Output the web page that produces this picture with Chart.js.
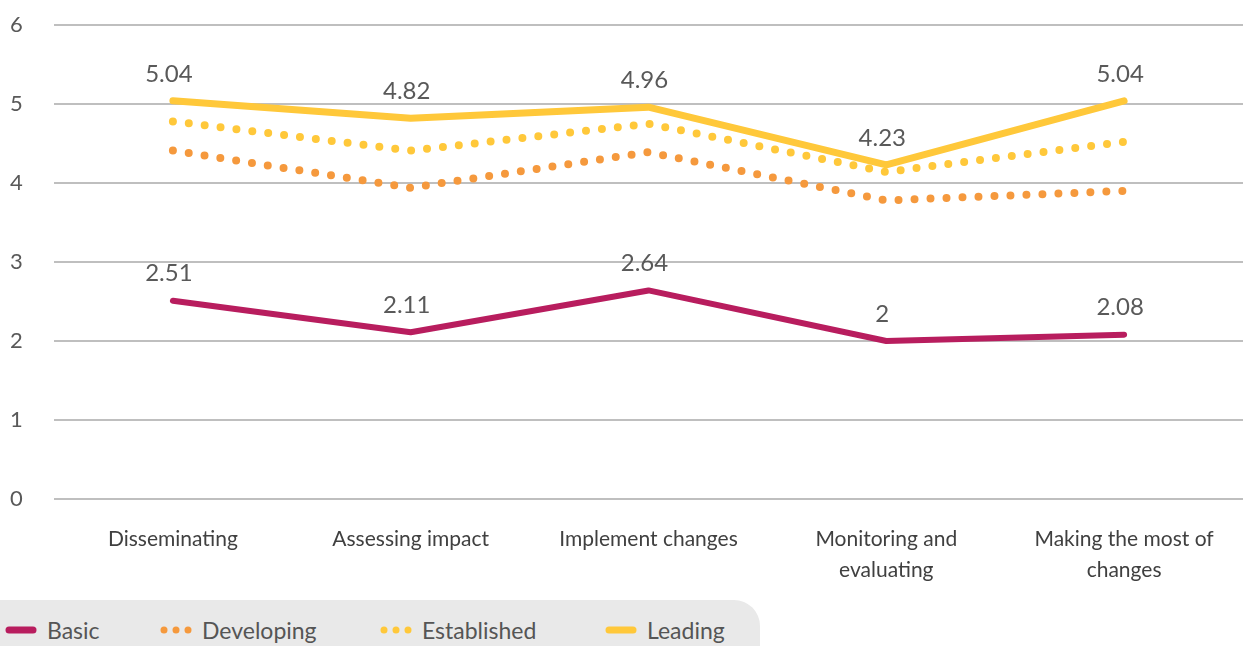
<!DOCTYPE html>
<html>
<head>
<meta charset="utf-8">
<script src="https://cdn.jsdelivr.net/npm/chart.js@4"></script>
<style>
    html, body { margin: 0; padding: 0; background: #fff; }
    #wrap { position: relative; width: 1245px; height: 646px; overflow: hidden; }
    #chart { position: absolute; left: 0; top: 0; }
    #legend {
        position: absolute; left: 0; top: 600px; width: 760px; height: 60px;
        background: #e9e9e9; border-top-right-radius: 26px;
        font-family: 'Lato', sans-serif; font-size: 23px; color: #555;
    }
    .item { position: absolute; top: 16px; display: flex; align-items: center; }
    .item canvas { margin-right: 10px; }
</style>
</head>
<body>
<div id="wrap">
    <canvas id="chart" width="1245" height="646"></canvas>
    <div id="legend"></div>
</div>
<script>
const categories = ['Disseminating', 'Assessing impact', 'Implement changes', ['Monitoring and', 'evaluating'], ['Making the most of', 'changes']];
const basic = [2.51, 2.11, 2.64, 2, 2.08];
const developing = [4.41, 3.94, 4.39, 3.78, 3.90];
const established = [4.78, 4.41, 4.75, 4.14, 4.52];
const leading = [5.04, 4.82, 4.96, 4.23, 5.04];
const yTicks = [0, 1, 2, 3, 4, 5, 6];

const FONT = 'Lato';

// draws value labels above the solid lines
const valueLabels = {
    id: 'valueLabels',
    afterDatasetsDraw(chart) {
        const ctx = chart.ctx;
        ctx.save();
        ctx.font = '24px ' + FONT;
        ctx.fillStyle = '#595959';
        ctx.textAlign = 'center';
        ctx.textBaseline = 'bottom';
        chart.data.datasets.forEach((ds, i) => {
            if (!ds.showValues) return;
            chart.getDatasetMeta(i).data.forEach((pt, j) => {
                ctx.fillText(String(ds.data[j]), pt.x - 4, pt.y - 15);
            });
        });
        ctx.restore();
    }
};

const datasets = [
    { label: 'Basic', data: basic, borderColor: '#b81d5e', borderWidth: 6, showValues: true, swatch: 'line' },
    { label: 'Developing', data: developing, borderColor: '#f5993d', borderWidth: 8, borderDash: [0, 16], swatch: 'dots' },
    { label: 'Established', data: established, borderColor: '#ffc83a', borderWidth: 8, borderDash: [0, 16], swatch: 'dots' },
    { label: 'Leading', data: leading, borderColor: '#ffc83a', borderWidth: 7, showValues: true, swatch: 'line' }
];

const ctx = document.getElementById('chart').getContext('2d');
new Chart(ctx, {
    type: 'line',
    data: {
        labels: categories,
        datasets: datasets.map(d => Object.assign({
            pointRadius: 0,
            borderCapStyle: 'round',
            borderJoinStyle: 'round',
            tension: 0,
            fill: false
        }, d))
    },
    options: {
        responsive: false,
        animation: false,
        layout: { padding: { left: 10, right: 2, top: 25, bottom: 44 } },
        plugins: { legend: { display: false }, tooltip: { enabled: false } },
        scales: {
            x: {
                offset: true,
                grid: { display: false },
                border: { display: false },
                ticks: { font: { family: FONT, size: 21, lineHeight: 1.5 }, color: '#404040', padding: 16, maxRotation: 0, autoSkip: false }
            },
            y: {
                min: 0, max: 6,
                afterFit(axis) { axis.width = 44; },
                afterBuildTicks(axis) { axis.ticks = yTicks.map(v => ({ value: v })); },
                grid: { color: '#bfbfbf', lineWidth: 2, drawTicks: false },
                border: { display: false },
                ticks: { font: { family: FONT, size: 22 }, color: '#595959', crossAlign: 'far', padding: 0 }
            }
        }
    },
    plugins: [valueLabels]
});

// legend
const legend = document.getElementById('legend');
const lefts = [5, 160, 380, 605];
datasets.forEach((d, i) => {
    const item = document.createElement('div');
    item.className = 'item';
    item.style.left = lefts[i] + 'px';
    const sw = document.createElement('canvas');
    sw.width = 32; sw.height = 12;
    const c = sw.getContext('2d');
    c.fillStyle = d.borderColor;
    c.strokeStyle = d.borderColor;
    if (d.swatch === 'line') {
        c.lineWidth = 7; c.lineCap = 'round';
        c.beginPath(); c.moveTo(4, 6); c.lineTo(28, 6); c.stroke();
    } else {
        [4, 16, 28].forEach(x => { c.beginPath(); c.arc(x, 6, 3.5, 0, Math.PI * 2); c.fill(); });
    }
    item.appendChild(sw);
    const t = document.createElement('span');
    t.textContent = d.label;
    item.appendChild(t);
    legend.appendChild(item);
});
</script>
</body>
</html>
